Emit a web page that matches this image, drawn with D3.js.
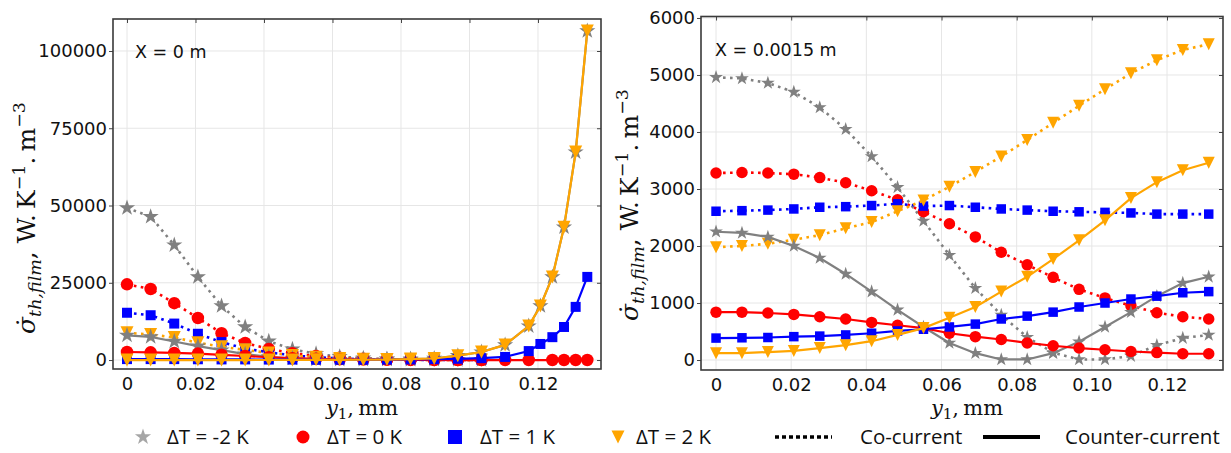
<!DOCTYPE html>
<html><head><meta charset="utf-8">
<script src="https://cdn.jsdelivr.net/npm/d3@7"></script>
<style>body{margin:0;background:#fff}</style>
</head><body><svg id="c" width="1231" height="453"></svg>
<script>
// ---------- DATA ----------
const xLeft = [0, 0.0069, 0.0138, 0.0207, 0.0276, 0.0345, 0.0414, 0.0483, 0.0552, 0.0621, 0.0690, 0.0759, 0.0828, 0.0897, 0.0966, 0.1035, 0.1104, 0.1173, 0.1207, 0.1242, 0.1276, 0.1310, 0.1344];
const xRight = [0, 0.0069, 0.0138, 0.0207, 0.0276, 0.0345, 0.0414, 0.0483, 0.0552, 0.0621, 0.0690, 0.0759, 0.0828, 0.0897, 0.0966, 0.1035, 0.1104, 0.1173, 0.1242, 0.1311];

// Left panel, X = 0 m
const leftGrayCo     = [49200, 46400, 37200, 26900, 17500, 10700, 6100, 3500, 2000, 1100, 600, 300, 150, 100, 60, 40, null, null, null, null, null, null, null];
const leftRedCo      = [24500, 23000, 18400, 13600, 8700, 5500, 3600, 2200, 1300, 700, 400, 200, 100, 50, 20, 10, null, null, null, null, null, null, null];
const leftBlueCo     = [15300, 14500, 11800, 8500, 5800, 3700, 2500, 1500, 900, 500, 250, 120, 60, 30, 20, 10, null, null, null, null, null, null, null];
const leftOrangeCo   = [8800, 8300, 7300, 5600, 4300, 3300, 2300, 1500, 900, 500, 250, 120, 60, 30, 20, 10, null, null, null, null, null, null, null];
const leftGrayCnt    = [8000, 7500, 6000, 4500, 3200, 1900, 1000, 500, 250, 150, 150, 200, 300, 500, 1400, 2600, 4900, 11000, 17500, 26900, 43000, 67300, 106500];
const leftRedCnt     = [2600, 2500, 2300, 2100, 1700, 1300, 900, 600, 400, 250, 150, 100, 50, 20, 0, 0, 0, 0, null, 0, 0, 0, 0];
const leftBlueCnt    = [300, 300, 300, 250, 200, 200, 150, 150, 100, 100, 100, 150, 200, 300, 400, 600, 1000, 2900, 5200, 7400, 10700, 17200, 26900];
const leftOrangeCnt  = [0, 0, 0, 0, 0, 0, 20, 40, 60, 80, 100, 150, 300, 500, 1400, 2600, 4900, 11000, 17500, 26900, 43000, 67300, 106500];

// Right panel, X = 0.0015 m
const rightGrayCo    = [4960, 4940, 4860, 4700, 4430, 4050, 3570, 3030, 2440, 1840, 1260, 790, 400, 130, 10, 10, 70, 260, 385, 440];
const rightRedCo     = [3280, 3290, 3280, 3260, 3200, 3110, 2970, 2810, 2600, 2390, 2160, 1890, 1670, 1450, 1240, 1090, 950, 830, 760, 720];
const rightBlueCo    = [2610, 2620, 2630, 2650, 2680, 2690, 2710, 2740, 2700, 2710, 2680, 2650, 2630, 2610, 2600, 2590, 2580, 2560, 2560, 2560];
const rightOrangeCo  = [1980, 2000, 2040, 2110, 2190, 2310, 2420, 2610, 2800, 3040, 3300, 3570, 3860, 4160, 4460, 4750, 5030, 5260, 5440, 5540];
const rightGrayCnt   = [2250, 2230, 2160, 2000, 1790, 1510, 1200, 880, 580, 300, 120, 10, 10, 120, 320, 580, 840, 1120, 1350, 1460];
const rightRedCnt    = [840, 840, 825, 800, 760, 720, 660, 610, 560, 470, 410, 360, 300, 250, 210, 180, 150, 130, 110, 110];
const rightBlueCnt   = [385, 390, 395, 410, 420, 440, 470, 510, 540, 580, 630, 720, 770, 840, 930, 1000, 1070, 1120, 1180, 1200];
const rightOrangeCnt = [120, 120, 140, 160, 210, 260, 330, 440, 560, 740, 930, 1200, 1460, 1770, 2100, 2450, 2840, 3120, 3330, 3460];

const xTicks = [0, 0.02, 0.04, 0.06, 0.08, 0.10, 0.12];
const yTicksLeft = [0, 25000, 50000, 75000, 100000];
const yTicksRight = [0, 1000, 2000, 3000, 4000, 5000, 6000];
const legendLabels = ["ΔT = -2 K", "ΔT = 0 K", "ΔT = 1 K", "ΔT = 2 K"];
const styleLabels = ["Co-current", "Counter-current"];

// ---------- STYLE ----------
const colors = ["#808080", "#ff0000", "#0000ff", "#ffa500"];
const markers = ["star", "circle", "square", "tri"];

const svg = d3.select('#c');
svg.append('rect').attr('width', 1231).attr('height', 453).attr('fill', '#fff');

const triDown = { draw(ctx, size) { const s = Math.sqrt(size) / 2; ctx.moveTo(0, s); ctx.lineTo(-s, -s); ctx.lineTo(s, -s); ctx.closePath(); } };
function symbolPath(kind, px) {
  if (kind === 'star') return d3.symbol(d3.symbolStar, (px / 2) ** 2 / 0.8908130915292852)();
  if (kind === 'circle') return d3.symbol(d3.symbolCircle, Math.PI * (px / 2) ** 2)();
  if (kind === 'square') return d3.symbol(d3.symbolSquare, px * px)();
  return d3.symbol(triDown, px * px)();
}

function panel(cfg) {
  const { x0, x1, y0, y1, xDomain, yDomain, yTicks, xs, co, cnt, label, msz, labelX } = cfg;
  const x = d3.scaleLinear().domain(xDomain).range([x0, x1]);
  const y = d3.scaleLinear().domain(yDomain).range([y1, y0]);
  const g = svg.append('g');
  g.selectAll('.vg').data(xTicks).join('line')
    .attr('x1', d => x(d)).attr('x2', d => x(d)).attr('y1', y0).attr('y2', y1)
    .attr('stroke', '#e6e6e6').attr('stroke-width', 1);
  g.selectAll('.hg').data(yTicks).join('line')
    .attr('y1', d => y(d)).attr('y2', d => y(d)).attr('x1', x0).attr('x2', x1)
    .attr('stroke', '#e6e6e6').attr('stroke-width', 1);

  const font = 'DejaVu Sans';
  const ax = g.append('g').attr('transform', `translate(${x0},0)`)
    .call(d3.axisLeft(y).tickValues(yTicks).tickSize(4).tickPadding(2).tickFormat(d3.format('d')));
  const bx = g.append('g').attr('transform', `translate(0,${y1})`)
    .call(d3.axisBottom(x).tickValues(xTicks).tickSize(0).tickPadding(8).tickFormat(d => d === 0 ? '0' : d.toFixed(2)));
  const rx = g.append('g').attr('transform', `translate(${x1},0)`)
    .call(d3.axisLeft(y).tickValues(yTicks).tickSize(4).tickFormat(''));
  const tx = g.append('g').attr('transform', `translate(0,${y0})`)
    .call(d3.axisBottom(x).tickValues(xTicks).tickSize(4).tickFormat(''));
  [ax, bx, rx, tx].forEach(a => {
    a.select('.domain').remove();
    a.selectAll('line').attr('stroke', '#444');
    a.selectAll('text').attr('font-family', font).attr('font-size', 18).attr('fill', '#111');
  });

  const line = d3.line().x(d => x(d.x)).y(d => y(d.v));
  const drawSeries = (vals, i, dotted) => {
    const pts = xs.map((xv, k) => ({ x: xv, v: vals[k] })).filter(d => d.v != null);
    g.append('path').datum(pts).attr('d', line).attr('fill', 'none')
      .attr('stroke', colors[i]).attr('stroke-width', dotted ? 2.6 : 2.2)
      .attr('stroke-dasharray', dotted ? '2.6,4.4' : null);
    g.selectAll(null).data(pts).join('path')
      .attr('transform', d => `translate(${x(d.x)},${y(d.v)})`)
      .attr('d', symbolPath(markers[i], msz[i])).attr('fill', colors[i]);
  };
  for (let i = 0; i < 4; i++) drawSeries(co[i], i, true);
  for (let i = 0; i < 4; i++) drawSeries(cnt[i], i, false);

  g.append('rect').attr('x', x0).attr('y', y0).attr('width', x1 - x0).attr('height', y1 - y0)
    .attr('fill', 'none').attr('stroke', '#3a3a3a').attr('stroke-width', 1.6);

  g.append('text').attr('x', x0 + label.dx).attr('y', y0 + 39).attr('font-family', font)
    .attr('font-size', 17.5).attr('fill', '#111').text(label.text);

  const xl = g.append('text').attr('x', labelX).attr('y', 415).attr('text-anchor', 'middle')
    .attr('font-family', 'DejaVu Serif').attr('font-size', 21).attr('fill', '#111');
  xl.append('tspan').attr('font-style', 'italic').text('y');
  xl.append('tspan').attr('font-size', 15).attr('dy', 4).text('1');
  xl.append('tspan').attr('dy', -4).text(',\u2009mm');

  const yl = g.append('text').attr('transform', `translate(${cfg.ylx},${cfg.yly}) rotate(-90)`)
    .attr('text-anchor', 'middle').attr('font-family', 'DejaVu Serif').attr('font-size', 25).attr('fill', '#111');
  yl.append('tspan').attr('font-style', 'italic').text('σ\u0307');
  yl.append('tspan').attr('font-style', 'italic').attr('font-size', 17.5).attr('dy', 6).text('th,film');
  yl.append('tspan').attr('dy', -6).text(', W.\u2009K');
  yl.append('tspan').attr('font-size', 17.5).attr('dy', -10).text('−1');
  yl.append('tspan').attr('dy', 10).text('.\u2009m');
  yl.append('tspan').attr('font-size', 17.5).attr('dy', -10).text('−3');
}

panel({
  x0: 113, x1: 601, y0: 19, y1: 369,
  xDomain: [-0.00409, 0.1384], yDomain: [-2900, 110350], yTicks: yTicksLeft, xs: xLeft,
  co: [leftGrayCo, leftRedCo, leftBlueCo, leftOrangeCo],
  cnt: [leftGrayCnt, leftRedCnt, leftBlueCnt, leftOrangeCnt],
  label: { text: 'X = 0 m', dx: 22 }, msz: [17, 12.5, 10, 13], labelX: 362, ylx: 35, yly: 218
});
panel({
  x0: 701, x1: 1223, y0: 16.5, y1: 370,
  xDomain: [-0.004, 0.1349], yDomain: [-175, 6026], yTicks: yTicksRight, xs: xRight,
  co: [rightGrayCo, rightRedCo, rightBlueCo, rightOrangeCo],
  cnt: [rightGrayCnt, rightRedCnt, rightBlueCnt, rightOrangeCnt],
  label: { text: 'X = 0.0015 m', dx: 14 }, msz: [14.5, 11.5, 9.5, 12], labelX: 967, ylx: 638, yly: 205
});

// ---------- LEGEND ----------
const leg = svg.append('g');
const legY = 437;
const mPos = [143, 303, 455, 618];
const tPos = [167, 327, 480, 636];
const legColors = ["#a6a6a6", "#ff0000", "#0000ff", "#ffa500"];
const legSz = [17, 13, 14, 13];
legendLabels.forEach((t, i) => {
  leg.append('path').attr('transform', `translate(${mPos[i]},${legY})`)
    .attr('d', symbolPath(markers[i], legSz[i])).attr('fill', legColors[i]);
  leg.append('text').attr('x', tPos[i]).attr('y', legY + 7).attr('font-family', 'Open Sans')
    .attr('font-size', 20.5).attr('fill', '#111').text(t);
});
leg.append('line').attr('x1', 775).attr('x2', 832).attr('y1', legY).attr('y2', legY)
  .attr('stroke', '#000').attr('stroke-width', 3.5).attr('stroke-dasharray', '4,3');
leg.append('text').attr('x', 860).attr('y', legY + 7).attr('font-family', 'Open Sans')
  .attr('font-size', 20.5).attr('fill', '#111').text(styleLabels[0]);
leg.append('line').attr('x1', 983).attr('x2', 1040).attr('y1', legY).attr('y2', legY)
  .attr('stroke', '#000').attr('stroke-width', 4);
leg.append('text').attr('x', 1065).attr('y', legY + 7).attr('font-family', 'Open Sans')
  .attr('font-size', 20.5).attr('fill', '#111').text(styleLabels[1]);
</script>
</body></html>
